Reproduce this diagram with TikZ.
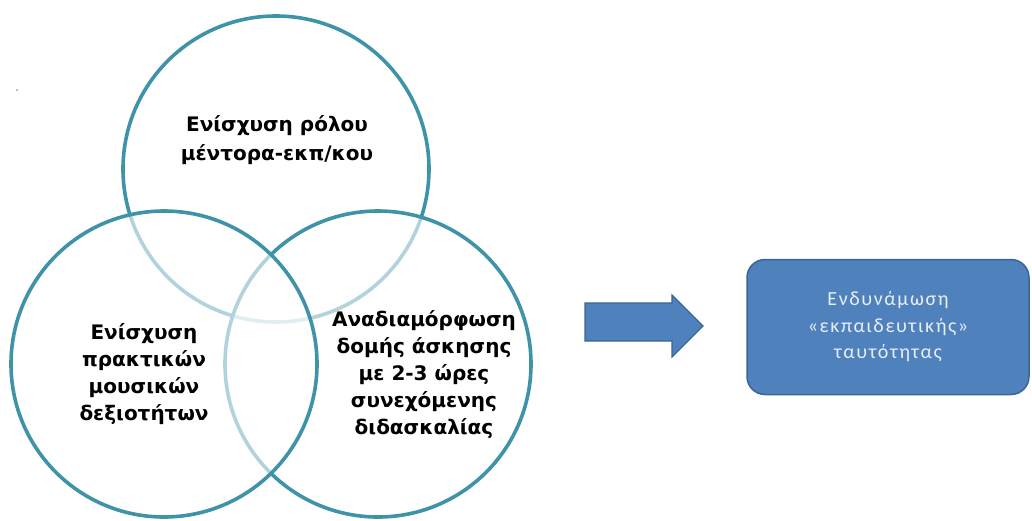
\documentclass[tikz,border=0pt]{standalone}
\usepackage{fontspec}
\setmainfont{Carlito}
\newfontfamily\venfont{DejaVu Sans}
\usetikzlibrary{positioning}
\definecolor{vennline}{HTML}{3F93A8}
\definecolor{boxfill}{HTML}{4F81BD}
\definecolor{boxline}{HTML}{3A6595}
\definecolor{boxtext}{HTML}{E8EEF6}

\begin{document}
\begin{tikzpicture}[x=1pt, y=-1pt,
    venn/.style={circle, draw=vennline, line width=3.6pt,
      minimum size=306pt, inner sep=0pt},
    vennfill/.style={venn, fill=white, fill opacity=0.6},
    vtext/.style={font=\venfont\bfseries\fontsize{20}{27}\selectfont,
      align=center, text=black},
    idbox/.style={rectangle, rounded corners=18pt, draw=boxline,
      line width=1.5pt, fill=boxfill, text=boxtext,
      minimum width=282pt, minimum height=135pt, align=center,
      font=\addfontfeatures{LetterSpace=8}\fontsize{20}{26.5}\selectfont}]
  % frame
  \useasboundingbox (0,0) rectangle (1032,520);
  \fill[gray] (17,90) circle (0.8pt);

  % Venn circles: top, right, left
  \node[venn] (mentor) at (276,169) {};
  \node[vennfill] (structure) at (378,364) {};
  \node[vennfill] (skills) at (164,364) {};

  % Labels
  \node[vtext, font=\venfont\bfseries\fontsize{20}{29}\selectfont]
    (mentortxt) at (277,140) {Ενίσχυση ρόλου\\μέντορα-εκπ/κου};
  \node[vtext] (skillstxt) at (144,374)
    {Ενίσχυση\\πρακτικών\\μουσικών\\δεξιοτήτων};
  \node[vtext] (structuretxt) at (424,375)
    {Αναδιαμόρφωση\\δομής άσκησης\\με 2-3 ώρες\\συνεχόμενης\\διδασκαλίας};

  % Block arrow
  \filldraw[fill=boxfill, draw=boxline, line width=1.2pt]
    (585,303) -- (672,303) -- (672,295) -- (703,326) -- (672,357)
    -- (672,341) -- (585,341) -- cycle;

  % Outcome
  \node[idbox] (identity) at (888,327)
    {Ενδυνάμωση\\«εκπαιδευτικής»\\ταυτότητας};
\end{tikzpicture}
\end{document}
